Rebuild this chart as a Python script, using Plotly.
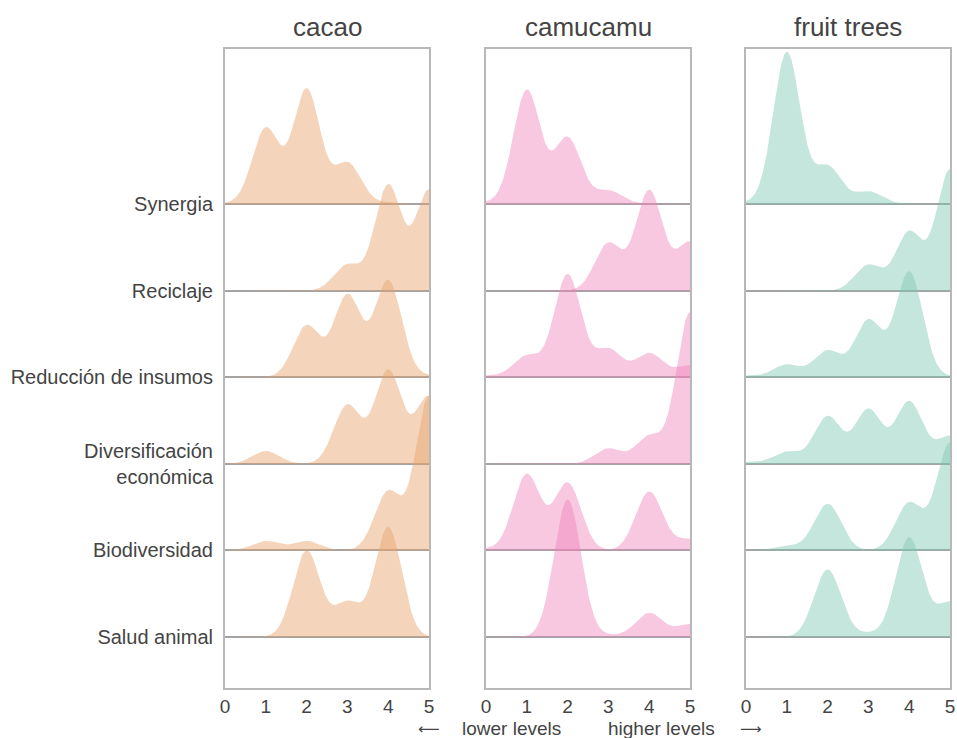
import numpy as np
import plotly.graph_objects as go

# Ridge categories, top to bottom
CATEGORIES = ["Synergia", "Reciclaje", "Reducción de insumos",
              "Diversificación<br>económica", "Biodiversidad", "Salud animal"]
SCORES = [0, 1, 2, 3, 4, 5]
CROPS = ["cacao", "camucamu", "fruit trees"]

# Kernel weight at each score (0..5), one row per category (same order as CATEGORIES)
cacao = [
    [0.01, 0.88, 1.33, 0.48, 0.02, 0.00],
    [0.00, 0.00, 0.00, 0.30, 1.22, 1.16],
    [0.00, 0.00, 0.60, 0.95, 1.12, 0.02],
    [0.00, 0.15, 0.00, 0.68, 1.08, 0.78],
    [0.00, 0.11, 0.11, 0.00, 0.68, 1.78],
    [0.00, 0.00, 1.00, 0.40, 1.27, 0.00],
]
camucamu = [
    [0.02, 1.32, 0.77, 0.16, 0.01, 0.00],
    [0.00, 0.00, 0.00, 0.55, 1.16, 0.56],
    [0.02, 0.25, 1.19, 0.33, 0.28, 0.14],
    [0.00, 0.00, 0.00, 0.18, 0.32, 1.75],
    [0.02, 0.88, 0.78, 0.00, 0.68, 0.13],
    [0.00, 0.00, 1.59, 0.02, 0.28, 0.15],
]
fruit_trees = [
    [0.02, 1.76, 0.44, 0.15, 0.01, 0.00],
    [0.00, 0.00, 0.00, 0.30, 0.68, 1.40],
    [0.02, 0.15, 0.31, 0.66, 1.22, 0.01],
    [0.02, 0.14, 0.55, 0.63, 0.72, 0.32],
    [0.00, 0.05, 0.54, 0.00, 0.55, 1.24],
    [0.00, 0.00, 0.78, 0.04, 1.15, 0.40],
]

FILLS = ["rgba(231,162,106,0.45)", "rgba(239,131,186,0.45)", "rgba(126,199,177,0.45)"]
BANDWIDTH = 0.33
TEXT = "#444444"
FONT = "Liberation Sans, Arial, sans-serif"
ARROW_FONT = "DejaVu Sans, sans-serif"

W, H = 957, 738
x_dom = [(225 / W, 429 / W), (486 / W, 690 / W), (746 / W, 950 / W)]
y_dom = (1 - 688 / H, 1 - 49 / H)
Y_RANGE = [-0.589, 6.795]

grid = np.linspace(0, 5, 501)


def ridge(weights):
    w = np.asarray(weights)[:, None]
    k = np.asarray(SCORES)[:, None]
    return (w * np.exp(-((grid[None, :] - k) ** 2) / (2 * BANDWIDTH ** 2))).sum(axis=0)


fig = go.Figure()
n = len(CATEGORIES)
for i, (crop, data) in enumerate(zip(CROPS, [cacao, camucamu, fruit_trees])):
    xa = "x" if i == 0 else f"x{i + 1}"
    ya = "y" if i == 0 else f"y{i + 1}"
    for j, row in enumerate(data):
        base = n - 1 - j
        h = ridge(row)
        xs = np.concatenate([grid, grid[::-1]])
        ys = np.concatenate([base + h, np.full(grid.size, base)])
        fig.add_trace(go.Scatter(
            x=xs, y=ys, mode="lines", fill="toself", fillcolor=FILLS[i],
            line=dict(width=0), hoverinfo="skip", showlegend=False,
            xaxis=xa, yaxis=ya))

    xkey = "xaxis" if i == 0 else f"xaxis{i + 1}"
    ykey = "yaxis" if i == 0 else f"yaxis{i + 1}"
    fig.update_layout({
        xkey: dict(domain=list(x_dom[i]), range=[0, 5], anchor=ya,
                   tickvals=SCORES, ticks="", showgrid=False, zeroline=False,
                   showline=True, mirror=True, linecolor="#b8b8b8", linewidth=2,
                   tickfont=dict(size=19, color=TEXT, family=FONT),
                   ticklabelstandoff=0, automargin=False, fixedrange=True),
        ykey: dict(domain=list(y_dom), range=Y_RANGE, anchor=xa,
                   tickvals=list(range(n)), ticktext=CATEGORIES[::-1],
                   showticklabels=(i == 0), ticks="", showgrid=True,
                   gridcolor="#a3a3a3", gridwidth=1.5, zeroline=False,
                   showline=True, mirror=True, linecolor="#b8b8b8", linewidth=2,
                   tickfont=dict(size=20, color=TEXT, family=FONT),
                   ticklabelstandoff=6, automargin=False, fixedrange=True),
    })
    fig.add_annotation(text=crop, x=sum(x_dom[i]) / 2, y=1 - 44 / H,
                       xref="paper", yref="paper", xanchor="center", yanchor="bottom",
                       showarrow=False, font=dict(size=26, color=TEXT, family=FONT))

# Direction hint under the middle panel
y_hint = 1 - 728.5 / H
hint = dict(xref="paper", yref="paper", y=y_hint, yanchor="middle",
            showarrow=False, borderpad=0)
fig.add_annotation(text="⟵", x=429 / W, xanchor="center",
                   font=dict(size=15, color=TEXT, family=ARROW_FONT), **hint)
fig.add_annotation(text="lower levels", x=562 / W, xanchor="right",
                   font=dict(size=19, color=TEXT, family=FONT), **hint)
fig.add_annotation(text="higher levels", x=607 / W, xanchor="left",
                   font=dict(size=19, color=TEXT, family=FONT), **hint)
fig.add_annotation(text="⟶", x=751 / W, xanchor="center",
                   font=dict(size=15, color=TEXT, family=ARROW_FONT), **hint)

fig.update_layout(
    template="none",
    width=W, height=H,
    margin=dict(l=0, r=0, t=0, b=0),
    paper_bgcolor="white", plot_bgcolor="white",
    font=dict(family=FONT, color=TEXT),
)

fig.write_html("out.html")
